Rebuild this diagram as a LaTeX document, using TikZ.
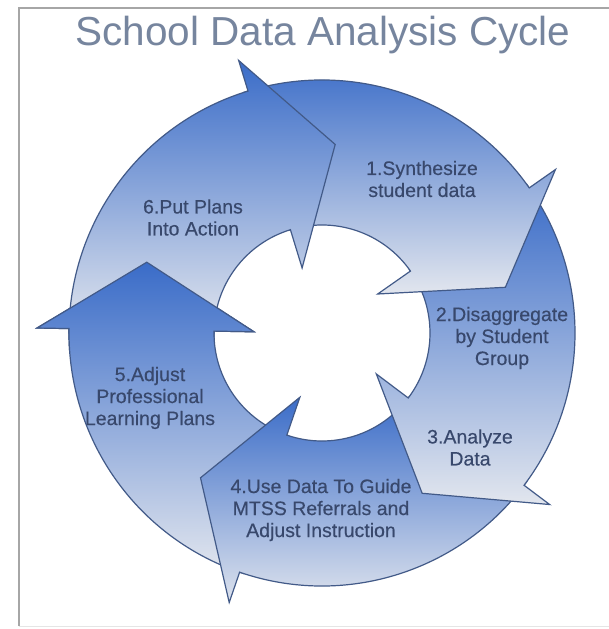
\documentclass[tikz,border=0pt]{standalone}
\usepackage{fontspec}
\setmainfont{Liberation Sans}
\newfontfamily\steplabelfont{Liberation Sans}[FakeBold=0.35]
\begin{document}
\begin{tikzpicture}[x=1pt,y=1pt]
\definecolor{arrowtop}{RGB}{58,108,200}
\definecolor{arrowbot}{RGB}{226,230,238}
\definecolor{arrowedge}{RGB}{66,90,136}
\definecolor{labeltext}{RGB}{56,72,108}
\definecolor{titletext}{RGB}{118,133,158}
\tikzset{
  cyclearrow/.style={draw=arrowedge, line width=1.2pt, line join=miter,
    top color=arrowtop, bottom color=arrowbot},
  steplabel/.style={text=labeltext, align=center,
    font=\steplabelfont\fontsize{19.5}{22}\selectfont},
}
% ring segment from tail angle #1 to head base angle #2, head tip 21 degrees further on
\newcommand\ringarrow[2]{(#1:253) arc[start angle=#1, end angle=#2, radius=253]
  -- (#2:285) -- ({#2-21}:189) -- (#2:68) -- (#2:108)
  arc[start angle=#2, end angle=#1, radius=108] -- cycle}

\useasboundingbox (-322,-296) rectangle (286,333);
\fill[white] (-322,-296) rectangle (286,333);

% frame
\draw[gray!70, line width=1.2pt] (-303,-293) -- (-303,325) -- (290,325);
\draw[gray!20, line width=1pt] (-303,-293) -- (290,-293);

% title
\node[font=\fontsize{40.5}{46}\selectfont, text=titletext, anchor=base]
  (title) at (1,287.5) {School Data Analysis Cycle};

% the five arrows, each head lying over the tail of the next one
\path[cyclearrow] \ringarrow{-108}{-181};
\path[cyclearrow] \ringarrow{-36}{-109};
\path[cyclearrow] \ringarrow{36}{-37};
\path[cyclearrow] \ringarrow{108}{35};
\path[cyclearrow] \ringarrow{180}{107};
% the head of the left arrow goes over the tail of the top-left one
\begin{scope}
  \clip (-176:305) -- (-183:305) -- (-207:189) -- (-183:50) -- (-176:50) -- cycle;
  \path[cyclearrow] \ringarrow{-108}{-181};
\end{scope}

% step labels
\node[steplabel] (s6) at (-129,115.5) {6.Put Plans\\Into Action};
\node[steplabel] (s1) at (100,154) {1.Synthesize\\student data};
\node[steplabel] (s2) at (180,-5) {2.Disaggregate\\by Student\\Group};
\node[steplabel] (s3) at (148,-114.5) {3.Analyze\\Data};
\node[steplabel] (s4) at (-1,-177) {4.Use Data To Guide\\MTSS Referrals and\\Adjust Instruction};
\node[steplabel] (s5) at (-172,-65) {5.Adjust\\Professional\\Learning Plans};
\end{tikzpicture}
\end{document}
